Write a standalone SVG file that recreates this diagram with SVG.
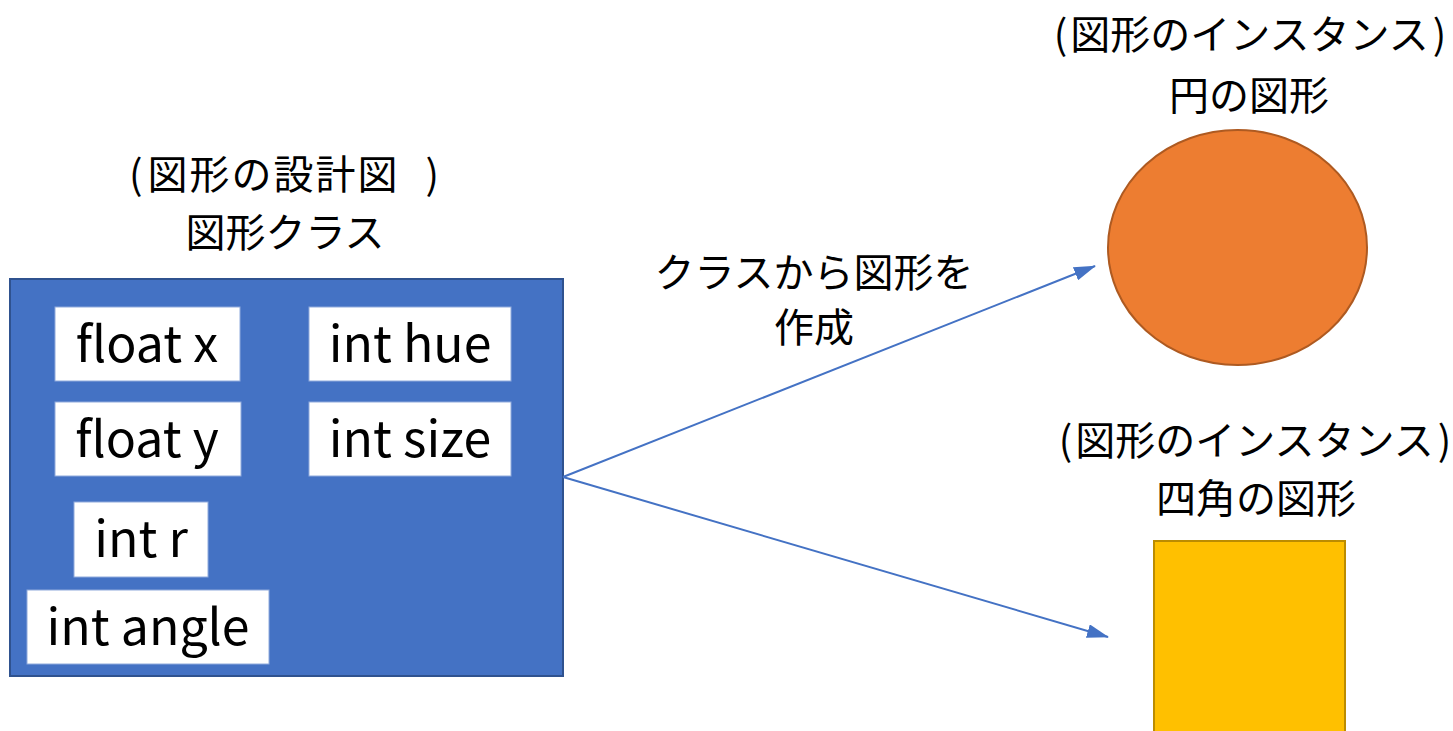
<svg xmlns="http://www.w3.org/2000/svg" width="1453" height="731" viewBox="0 0 1453 731">
<defs>
<style>
.t{font-family:"Noto Sans CJK JP","Noto Sans",sans-serif;fill:#000;text-anchor:middle}
.j{font-size:40px}
.f{font-size:50px}
.box{fill:#fff;stroke:#8faadc;stroke-width:1}
.conn{stroke:#4472C4;stroke-width:2;fill:none}
</style>
<marker id="ah2" viewBox="0 0 22 14" refX="21" refY="7" markerWidth="22" markerHeight="14" orient="auto" markerUnits="userSpaceOnUse">
<path d="M0,0 L22,7 L0,14 z" fill="#4472C4"/>
</marker>
</defs>
<rect width="1453" height="731" fill="#fff"/>
<g id="class-title">
<text class="t j" x="284" y="189"><tspan>(</tspan><tspan dx="5" letter-spacing="2">図形の設計図</tspan><tspan dx="26">)</tspan></text>
<text class="t j" x="285" y="247">図形クラス</text>
</g>
<g id="class">
<rect x="10" y="279" width="553" height="397" fill="#4472C4" stroke="#2F528F" stroke-width="2"/>
</g>
<g id="float-x"><rect class="box" x="55" y="307" width="185" height="74"/><text class="t f" x="147" y="362">float x</text></g>
<g id="int-hue"><rect class="box" x="309" y="307" width="202" height="74"/><text class="t f" x="410" y="362">int hue</text></g>
<g id="float-y"><rect class="box" x="55" y="402" width="186" height="74"/><text class="t f" x="147" y="457">float y</text></g>
<g id="int-size"><rect class="box" x="309" y="402" width="202" height="74"/><text class="t f" x="410" y="457">int size</text></g>
<g id="int-r"><rect class="box" x="74" y="502" width="134" height="75"/><text class="t f" x="141" y="557">int r</text></g>
<g id="int-angle"><rect class="box" x="27" y="590" width="242" height="74"/><text class="t f" x="148" y="645">int angle</text></g>
<g id="connectors">
<line class="conn" x1="563" y1="477" x2="1095" y2="266" marker-end="url(#ah2)"/>
<line class="conn" x1="563" y1="477" x2="1108" y2="637" marker-end="url(#ah2)"/>
<text class="t j" x="814" y="287">クラスから図形を</text>
<text class="t j" x="814" y="342">作成</text>
</g>
<g id="circle-instance">
<text class="t j" x="1250" y="49"><tspan>(</tspan><tspan dx="3">図形のインスタンス</tspan><tspan dx="4">)</tspan></text>
<text class="t j" x="1249" y="110">円の図形</text>
<ellipse cx="1237.5" cy="247.5" rx="129.5" ry="117.5" fill="#ED7D31" stroke="#AE5A21" stroke-width="2"/>
</g>
<g id="square-instance">
<text class="t j" x="1255" y="455"><tspan>(</tspan><tspan dx="3">図形のインスタンス</tspan><tspan dx="4">)</tspan></text>
<text class="t j" x="1256" y="513">四角の図形</text>
<rect x="1154" y="541" width="191" height="200" fill="#FFC000" stroke="#BC8C00" stroke-width="2"/>
</g>
</svg>
